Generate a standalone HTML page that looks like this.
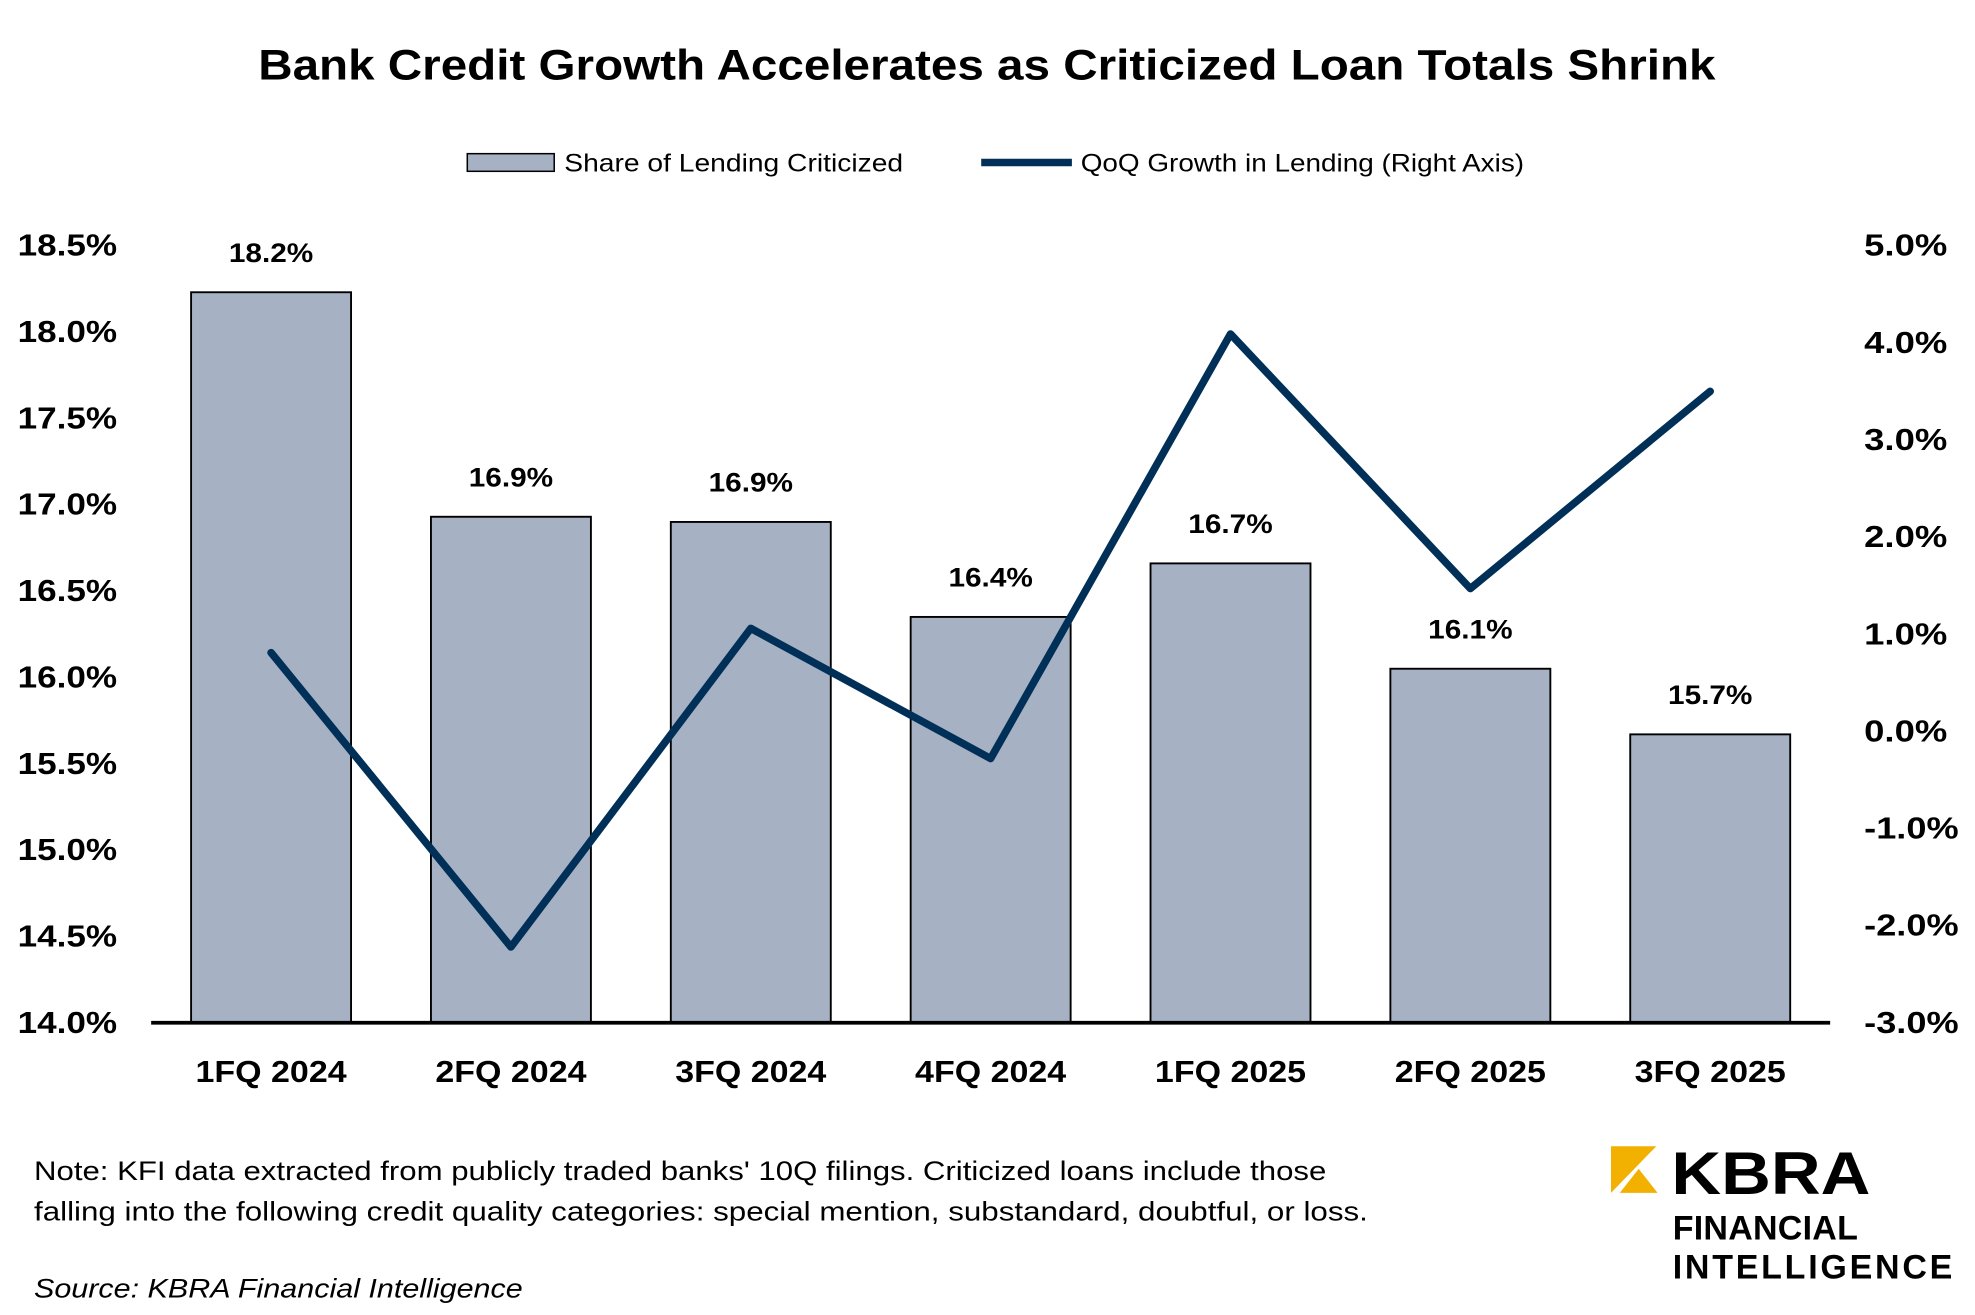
<!DOCTYPE html>
<html><head><meta charset="utf-8"><style>
html,body{margin:0;padding:0;background:#fff}
svg{display:block;font-family:"Liberation Sans",sans-serif}
</style></head><body>
<svg width="1975" height="1315" viewBox="0 0 1568 1044">
<text x="205" y="63" font-size="34" font-weight="bold" textLength="1157" lengthAdjust="spacingAndGlyphs">Bank Credit Growth Accelerates as Criticized Loan Totals Shrink</text>
<g>
<rect x="371" y="122" width="69" height="14" fill="#a6b2c4" stroke="#000" stroke-width="1.2"/>
<text x="448" y="136" font-size="20" textLength="269" lengthAdjust="spacingAndGlyphs">Share of Lending Criticized</text>
<line x1="779" y1="129" x2="851" y2="129" stroke="#003057" stroke-width="6"/>
<text x="858" y="136" font-size="20" textLength="352" lengthAdjust="spacingAndGlyphs">QoQ Growth in Lending (Right Axis)</text>
</g>
<g id="plot"></g>
<text x="27" y="937" font-size="21" textLength="1026" lengthAdjust="spacingAndGlyphs">Note: KFI data extracted from publicly traded banks' 10Q filings. Criticized loans include those</text>
<text x="27" y="969" font-size="21" textLength="1059" lengthAdjust="spacingAndGlyphs">falling into the following credit quality categories: special mention, substandard, doubtful, or loss.</text>
<text x="27" y="1030" font-size="21" font-style="italic" textLength="388" lengthAdjust="spacingAndGlyphs">Source: KBRA Financial Intelligence</text>
<g>
<polygon points="1279,910 1315,910 1279,947" fill="#f2b000"/>
<polygon points="1286,947 1316,947 1301,928" fill="#f2b000"/>
<text x="1327" y="948" font-size="48" font-weight="bold" textLength="158" lengthAdjust="spacingAndGlyphs">KBRA</text>
<text x="1328" y="984" font-size="27" font-weight="bold" textLength="147" lengthAdjust="spacing">FINANCIAL</text>
<text x="1328" y="1015" font-size="27" font-weight="bold" textLength="222" lengthAdjust="spacing">INTELLIGENCE</text>
</g>
</svg>
<script>
const categories=["1FQ 2024","2FQ 2024","3FQ 2024","4FQ 2024","1FQ 2025","2FQ 2025","3FQ 2025"];
const shareCriticized=[18.23,16.93,16.9,16.35,16.66,16.05,15.67];
const qoqGrowth=[0.81,-2.22,1.06,-0.28,4.09,1.47,3.5];
const leftTicks=[14.0,14.5,15.0,15.5,16.0,16.5,17.0,17.5,18.0,18.5];
const rightTicks=[-3,-2,-1,0,1,2,3,4,5];
const NS="http://www.w3.org/2000/svg";
const g=document.getElementById('plot');
const X0=120,X1=1453,Y0=812,Y1=195;
const band=(X1-X0)/categories.length;
const xc=i=>X0+band*(i+0.5);
const yL=v=>Y0-(v-14)/(18.5-14)*(Y0-Y1);
const yR=v=>Y0-(v+3)/8*(Y0-Y1);
function mk(t,a){const e=document.createElementNS(NS,t);for(const k in a)e.setAttribute(k,a[k]);g.appendChild(e);return e;}
leftTicks.forEach(v=>{const t=mk('text',{x:14,y:yL(v)+8,'font-size':24,'font-weight':'bold',textLength:79,lengthAdjust:'spacingAndGlyphs'});t.textContent=v.toFixed(1)+'%';

});
rightTicks.forEach(v=>{const s=v.toFixed(1)+'%';const t=mk('text',{x:1480,y:yR(v)+8,'font-size':24,'font-weight':'bold',textLength:v<0?75:66,lengthAdjust:'spacingAndGlyphs'});t.textContent=s;

});
const bw=127;
shareCriticized.forEach((v,i)=>{const r=mk('rect',{x:xc(i)-bw/2,y:yL(v),width:bw,height:Y0-yL(v),fill:'#a6b2c4',stroke:'#000','stroke-width':1.5});


const t=mk('text',{x:xc(i)-33.5,y:yL(v)-24,'font-size':21,'font-weight':'bold',textLength:67,lengthAdjust:'spacingAndGlyphs'});t.textContent=v.toFixed(1)+'%';


const c=mk('text',{x:xc(i)-60,y:859,'font-size':24,'font-weight':'bold',textLength:120,lengthAdjust:'spacingAndGlyphs'});c.textContent=categories[i];

});
const ax=mk('line',{x1:X0,y1:Y0,x2:X1,y2:Y0,stroke:'#000','stroke-width':3});


const pl=mk('polyline',{points:qoqGrowth.map((v,i)=>xc(i)+','+yR(v)).join(' '),fill:'none',stroke:'#003057','stroke-width':6,'stroke-linejoin':'round','stroke-linecap':'round'});


</script>
</body></html>
